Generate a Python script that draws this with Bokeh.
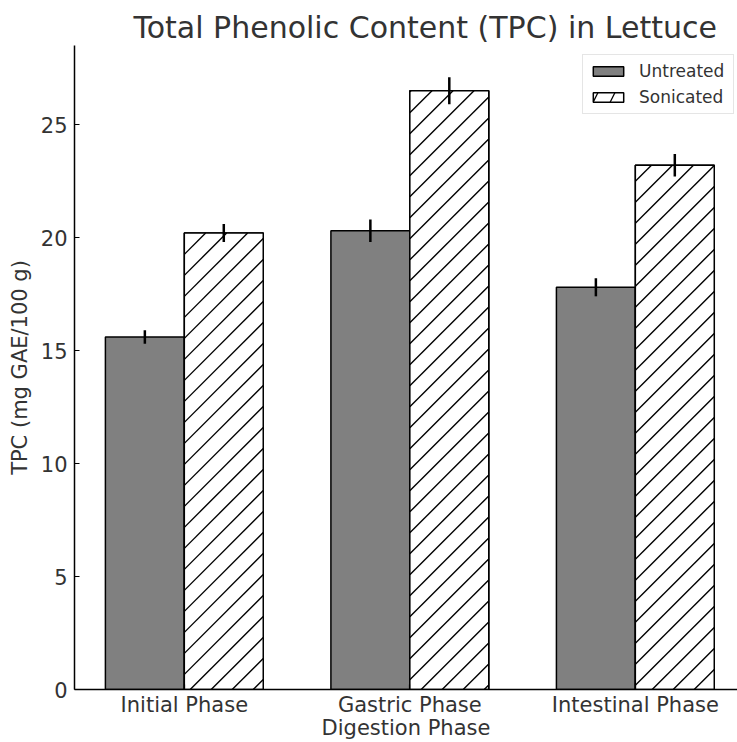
import math
from bokeh.plotting import figure
from bokeh.models import ColumnDataSource, FixedTicker, Legend, LegendItem, Range1d
from bokeh.embed import file_html
from bokeh.resources import INLINE

phases = ["Initial Phase", "Gastric Phase", "Intestinal Phase"]
untreated = [15.6, 20.3, 17.8]
untreated_err = [0.3, 0.5, 0.4]
sonicated = [20.2, 26.5, 23.2]
sonicated_err = [0.4, 0.6, 0.5]
y_ticks = [0, 5, 10, 15, 20, 25]

W, H = 737, 742
B_LEFT, B_RIGHT, B_TOP, B_BOTTOM = 74, 0, 45, 53
X0, X1 = -0.487, 2.453
Y0, Y1 = 0, 28.5

bar_w = 0.35
idx = list(range(len(phases)))
x_u = [i - bar_w / 2 for i in idx]
x_s = [i + bar_w / 2 for i in idx]

src_u = ColumnDataSource(dict(x=x_u, top=untreated,
                              lo=[v - e for v, e in zip(untreated, untreated_err)],
                              hi=[v + e for v, e in zip(untreated, untreated_err)]))
src_s = ColumnDataSource(dict(x=x_s, top=sonicated,
                              lo=[v - e for v, e in zip(sonicated, sonicated_err)],
                              hi=[v + e for v, e in zip(sonicated, sonicated_err)]))

# 45-degree hatch lines (in screen space) clipped to each sonicated bar
kx = (W - B_LEFT - B_RIGHT) / (X1 - X0)
ky = (H - B_TOP - B_BOTTOM) / (Y1 - Y0)
SP, PH = 21.0, 10.3
hx0, hy0, hx1, hy1 = [], [], [], []
for xc, top in zip(x_s, sonicated):
    Xl, Xr = (xc - bar_w / 2 - X0) * kx, (xc + bar_w / 2 - X0) * kx
    Yt = (top - Y0) * ky
    n0 = math.ceil((-Xr - PH) / SP)
    n1 = math.floor((Yt - Xl - PH) / SP)
    for n in range(n0, n1 + 1):
        c = PH + n * SP
        xs_, xe_ = max(Xl, -c), min(Xr, Yt - c)
        if xe_ > xs_:
            hx0.append(xs_ / kx + X0); hy0.append((xs_ + c) / ky + Y0)
            hx1.append(xe_ / kx + X0); hy1.append((xe_ + c) / ky + Y0)
src_h = ColumnDataSource(dict(x0=hx0, y0=hy0, x1=hx1, y1=hy1))

FONT = "DejaVu Sans"
TXT = "#333333"

p = figure(width=W, height=H, output_backend="svg", toolbar_location=None,
           x_range=Range1d(X0, X1), y_range=Range1d(Y0, Y1),
           min_border_left=B_LEFT, min_border_right=B_RIGHT,
           min_border_top=B_TOP, min_border_bottom=B_BOTTOM)

p.title.text = "Total Phenolic Content (TPC) in Lettuce"
p.title.text_font = FONT
p.title.text_font_size = "30px"
p.title.text_font_style = "normal"
p.title.text_color = TXT
p.title.align = "left"
p.title.offset = 59
p.title.standoff = 1

r_u = p.vbar(x="x", top="top", width=bar_w, bottom=0, source=src_u,
             fill_color="#808080", line_color="black", line_width=1.5)
# hatched renderer (used for the legend swatch); covered by the 45-degree hatch below
r_leg = p.vbar(x="x", top="top", width=bar_w, bottom=0, source=src_s,
               fill_color="white", line_color="black", line_width=1.5,
               hatch_pattern="/", hatch_scale=34, hatch_weight=1.3, hatch_color="black")
p.vbar(x="x", top="top", width=bar_w, bottom=0, source=src_s,
       fill_color="white", line_color=None)
p.segment(x0="x0", y0="y0", x1="x1", y1="y1", source=src_h,
          line_color="black", line_width=1.4)
p.vbar(x="x", top="top", width=bar_w, bottom=0, source=src_s,
       fill_color=None, line_color="black", line_width=1.5)

p.segment(x0="x", x1="x", y0="lo", y1="hi", source=src_u, line_color="black", line_width=2.5)
p.segment(x0="x", x1="x", y0="lo", y1="hi", source=src_s, line_color="black", line_width=2.5)

p.xgrid.visible = False
p.ygrid.visible = False
p.outline_line_color = None

p.xaxis.ticker = FixedTicker(ticks=idx)
p.xaxis.major_label_overrides = {i: n for i, n in zip(idx, phases)}
p.yaxis.ticker = FixedTicker(ticks=y_ticks)
p.xaxis.axis_label = "Digestion Phase"
p.yaxis.axis_label = "TPC (mg GAE/100 g)"

for ax in (p.xaxis, p.yaxis):
    ax.axis_line_color = "black"
    ax.axis_line_width = 1.5
    ax.major_tick_in = 5
    ax.major_tick_out = 0
    ax.major_tick_line_color = "black"
    ax.major_tick_line_width = 1.2
    ax.minor_tick_line_color = None
    ax.major_label_text_font = FONT
    ax.major_label_text_font_size = "21px"
    ax.major_label_text_color = TXT
    ax.axis_label_text_font = FONT
    ax.axis_label_text_font_size = "21px"
    ax.axis_label_text_font_style = "normal"
    ax.axis_label_text_color = TXT

p.xaxis.major_label_standoff = 3
p.xaxis.axis_label_standoff = -4
p.yaxis.major_label_standoff = 7
p.yaxis.axis_label_standoff = 6

legend = Legend(items=[LegendItem(label="Untreated", renderers=[r_u]),
                       LegendItem(label="Sonicated", renderers=[r_leg])],
                location=(508, 575))
legend.label_text_font = FONT
legend.label_text_font_size = "17px"
legend.label_text_color = TXT
legend.glyph_width = 38
legend.glyph_height = 12
legend.label_standoff = 12
legend.label_width = 88
legend.padding = 6
legend.spacing = 6
legend.border_line_color = "#cccccc"
legend.border_line_width = 1.2
legend.background_fill_alpha = 0.8
p.add_layout(legend)

open("out.html", "w").write(file_html(p, INLINE))
